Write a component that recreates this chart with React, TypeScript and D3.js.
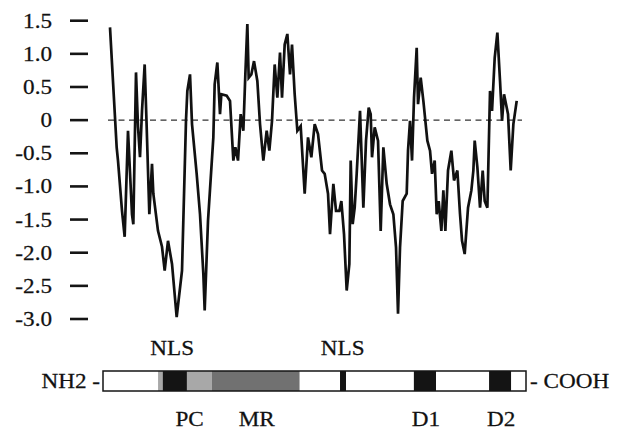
import React, { useEffect, useRef } from 'react';
import * as d3 from 'd3';

// hydropathy profile, residue position vs score
const residues = [0, 10, 12, 18, 22, 27, 33, 35, 39, 42, 45, 48, 52, 55, 59, 63, 65, 72, 78, 82, 87, 93, 100, 108, 114, 116, 120, 123, 130, 135, 140, 142,
  147, 155, 157, 161, 165, 167, 175, 180, 185, 188, 192, 196, 200, 203, 206, 208, 212, 216, 221, 225, 230, 235, 239, 243, 247, 251, 255, 258, 262, 266, 270, 273, 277, 281, 286, 292, 297, 302, 307,
  312, 318, 322, 327, 330, 335, 339, 344, 347, 351, 355, 359, 361, 364, 367, 370, 375, 380, 384, 388, 391, 393, 397, 402, 406, 410, 415, 420, 425, 429, 432, 435, 439, 445, 447, 450, 453, 456, 460,
  462, 466, 470, 473, 476, 480, 483, 487, 490, 493, 497, 500, 503, 507, 512, 516, 521, 525, 528, 532, 537, 542, 545, 547, 551, 555, 559, 562, 566, 570, 573, 577, 581, 585, 588, 591, 597, 601, 605, 610];

const hydropathy = [1.40, -0.41, -0.61, -1.37, -1.76, -0.16, -1.42, -1.57, 0.72, -0.10, -0.56, 0.14, 0.84, -0.10, -1.42, -0.66, -1.11, -1.67, -1.91, -2.27, -1.82, -2.17, -2.97, -2.27, 0.00, 0.44, 0.69, -0.06, -0.81, -1.42, -2.32, -2.87,
  -1.52, -0.26, 0.54, 0.87, 0.09, 0.39, 0.37, 0.29, -0.61, -0.41, -0.61, 0.09, -0.16, 0.69, 1.45, 0.64, 0.69, 0.89, 0.59, -0.06, -0.61, -0.16, -0.46, -0.01, 0.84, 0.34, 1.02, 0.34, 1.14, 1.30, 0.69, 1.14, 0.39, -0.16, -0.09, -1.11, -0.26, -0.56, -0.06,
  -0.21, -0.76, -0.81, -1.11, -1.72, -0.96, -1.37, -1.37, -1.22, -1.72, -2.57, -2.17, -0.61, -1.57, -1.32, -0.81, 0.14, -1.32, -0.31, 0.19, 0.09, -0.56, -0.11, -0.31, -1.67, -0.41, -0.96, -1.27, -1.42, -1.92, -2.92, -1.92, -1.22, -1.11, -0.46, -0.01, -0.61, 0.34, 1.09,
  0.24, 0.64, 0.29, -0.01, -0.31, -0.46, -0.81, -0.61, -1.42, -1.22, -1.67, -1.06, -1.67, -0.76, -0.46, -0.91, -0.76, -1.42, -1.82, -2.02, -1.32, -1.06, -0.76, -0.31, -0.71, -1.32, -0.76, -1.22, -1.32, 0.44, 0.14, 0.94, 1.32, 0.59, -0.01, 0.39, 0.09, -0.76, -0.06, 0.29];

const yTicks = [1.5, 1.0, 0.5, 0, -0.5, -1.0, -1.5, -2.0, -2.5, -3.0];

// protein domain map
const segStart = [0, 82, 89, 125, 162, 293, 353, 362, 463, 496, 575, 608];
const segEnd = [82, 89, 125, 162, 293, 353, 362, 463, 496, 575, 608, 630];
const segKind = ['none', 'light', 'black', 'light', 'dark', 'none', 'black', 'none', 'black', 'none', 'black', 'none'];
const aboveLabels = ['NLS', 'NLS'];
const abovePos = [103, 357];
const belowLabels = ['PC', 'MR', 'D1', 'D2'];
const belowPos = [129, 229, 481, 593];

const fills: Record<string, string> = { none: '#ffffff', light: '#a8a8a8', dark: '#717171', black: '#141414' };
const FONT = '"Liberation Serif", "Times New Roman", serif';

export default function App() {
  const ref = useRef<SVGSVGElement>(null);

  useEffect(() => {
    const svg = d3.select(ref.current);
    svg.selectAll('*').remove();

    const x = d3.scaleLinear().domain([0, 610]).range([110, 516.7]);
    const y = d3.scaleLinear().domain([-3, 1.5]).range([319, 20.7]);
    const bx = d3.scaleLinear().domain([0, 630]).range([103, 526]);

    const label = (t: string, px: number, py: number, anchor: string) =>
      svg.append('g').attr('transform', `translate(${px},${py}) scale(1.13,1)`)
        .append('text')
        .attr('text-anchor', anchor)
        .attr('font-family', FONT).attr('font-size', 20.5).attr('fill', '#111')
        .attr('stroke', '#111').attr('stroke-width', 0.25)
        .text(t);

    // y ticks, no axis line
    const ax = svg.append('g');
    yTicks.forEach(v => {
      ax.append('line').attr('x1', 70).attr('x2', 88)
        .attr('y1', y(v)).attr('y2', y(v))
        .attr('stroke', '#151515').attr('stroke-width', 2.6);
      const s = v === 0 ? '0' : (v < 0 ? '-' : '') + Math.abs(v).toFixed(1);
      label(s, 52, y(v) + 7, 'end');
    });

    // zero line
    svg.append('line').attr('x1', 108).attr('x2', 522)
      .attr('y1', y(0)).attr('y2', y(0))
      .attr('stroke', '#333').attr('stroke-width', 1.3).attr('stroke-dasharray', '6,4.5');

    const line = d3.line<number>().x((d, i) => x(residues[i])).y(d => y(d));
    svg.append('path').datum(hydropathy)
      .attr('d', line)
      .attr('fill', 'none').attr('stroke', '#111').attr('stroke-width', 2.7)
      .attr('stroke-linejoin', 'miter').attr('stroke-miterlimit', 3);

    // domain bar
    const barTop = 371, barH = 20;
    svg.append('g').selectAll('rect').data(segStart).enter().append('rect')
      .attr('x', (d) => bx(d)).attr('y', barTop)
      .attr('width', (d, i) => bx(segEnd[i]) - bx(d)).attr('height', barH)
      .attr('fill', (d, i) => fills[segKind[i]]);
    svg.append('rect').attr('x', bx(0)).attr('y', barTop)
      .attr('width', bx(630) - bx(0)).attr('height', barH)
      .attr('fill', 'none').attr('stroke', '#151515').attr('stroke-width', 1.5);

    aboveLabels.forEach((t, i) => label(t, bx(abovePos[i]), 355, 'middle'));
    belowLabels.forEach((t, i) => label(t, bx(belowPos[i]), 426, 'middle'));
    label('NH2 -', 100, 388, 'end');
    label('- COOH', 530, 388, 'start');
  }, []);

  return (
    <svg ref={ref} width={624} height={432}
      style={{ position: 'absolute', left: 0, top: 0, background: '#fff' }} />
  );
}
